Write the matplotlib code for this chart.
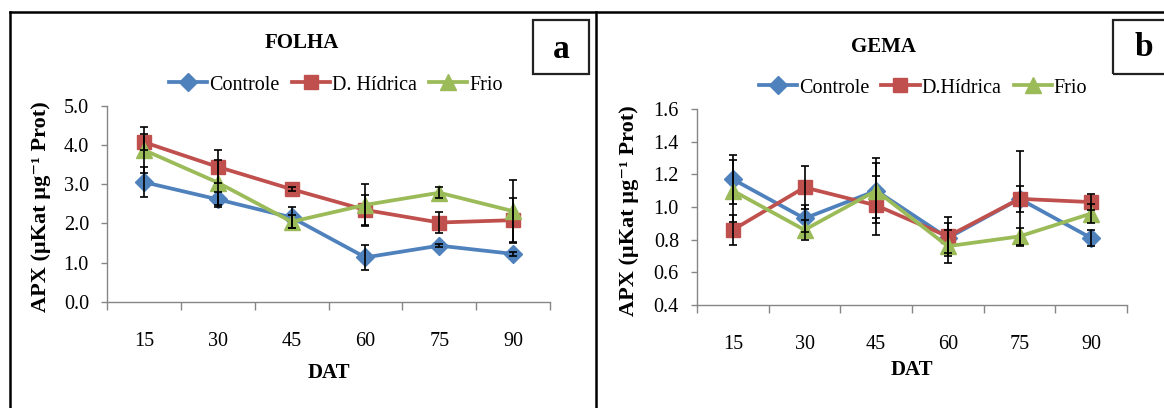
import matplotlib
matplotlib.use("Agg")
import matplotlib.pyplot as plt
from matplotlib.lines import Line2D
from matplotlib.patches import Rectangle
import numpy as np

plt.rcParams['font.family'] = ['Liberation Serif', 'DejaVu Serif']

categories = ["15", "30", "45", "60", "75", "90"]
series_names = ["Controle", "D. Hídrica", "Frio"]
series_names_b = ["Controle", "D.Hídrica", "Frio"]

folha_controle = [3.05, 2.61, 2.15, 1.13, 1.43, 1.22]
folha_controle_err = [0.38, 0.20, 0.27, 0.31, 0.04, 0.06]
folha_hidrica = [4.07, 3.44, 2.87, 2.34, 2.02, 2.08]
folha_hidrica_err = [0.20, 0.42, 0.05, 0.38, 0.28, 0.57]
folha_frio = [3.87, 3.04, 2.04, 2.47, 2.78, 2.31]
folha_frio_err = [0.58, 0.58, 0.17, 0.54, 0.14, 0.79]

gema_controle = [1.17, 0.93, 1.10, 0.81, 1.05, 0.81]
gema_controle_err = [0.15, 0.08, 0.20, 0.09, 0.08, 0.05]
gema_hidrica = [0.86, 1.12, 1.01, 0.82, 1.05, 1.03]
gema_hidrica_err = [0.09, 0.13, 0.18, 0.12, 0.29, 0.05]
gema_frio = [1.10, 0.86, 1.10, 0.76, 0.82, 0.96]
gema_frio_err = [0.19, 0.06, 0.17, 0.10, 0.05, 0.06]

colors = ["#4F81BD", "#C0504D", "#9BBB59"]
markers = ["D", "s", "^"]
msizes = [9.5, 10.5, 11]

W, H = 1164, 408
fig = plt.figure(figsize=(W / 100, H / 100), dpi=100)

def fx(x):
    return x / W

def fy(y):
    return 1 - y / H

def make_panel(rect, data, errs, ylim, yticks, names, title, title_pos, leg_pos,
               ylab_pos, dat_y, letter, box, letter_pos):
    ax = fig.add_axes(rect)
    x = np.arange(len(categories))
    handles = []
    for vals, err, c, m, ms, nm in zip(data, errs, colors, markers, msizes, names):
        h, = ax.plot(x, vals, color=c, lw=2.7, marker=m, ms=ms, mfc=c, mec=c,
                     label=nm, zorder=3, clip_on=False)
        ax.errorbar(x, vals, yerr=err, fmt='none', ecolor='black', elinewidth=1.2,
                    capsize=3.2, capthick=1.2, zorder=4, clip_on=False)
        handles.append(h)
    ax.set_xlim(-0.5, len(categories) - 0.5)
    ax.set_ylim(*ylim)
    ax.set_yticks(yticks)
    ax.set_yticklabels([f"{v:.1f}" for v in yticks])
    ax.set_xticks(np.arange(-0.5, len(categories), 1.0))
    ax.set_xticklabels([])
    ax.set_xticks(x, minor=True)
    ax.set_xticklabels(categories, minor=True)
    for s in ["top", "right"]:
        ax.spines[s].set_visible(False)
    for s in ["left", "bottom"]:
        ax.spines[s].set_color("#868686")
        ax.spines[s].set_linewidth(1.0)
    ax.tick_params(axis='x', which='major', length=5.5, color="#868686", width=1.0, direction='out')
    ax.tick_params(axis='x', which='minor', length=0, pad=21.5, labelsize=14.5)
    ax.tick_params(axis='y', which='major', length=4, color="#868686", width=1.0,
                   direction='out', pad=9, labelsize=14.5)
    ax.text(0.5, dat_y, "DAT", transform=ax.transAxes, ha='center', va='center',
            fontsize=15, fontweight='bold')
    fig.text(fx(title_pos[0]), fy(title_pos[1]), title, ha='center', va='center',
             fontsize=15, fontweight='bold')
    fig.text(fx(ylab_pos[0]), fy(ylab_pos[1]), "APX (µKat µg⁻¹ Prot)", rotation=90,
             ha='center', va='center', fontsize=16, fontweight='bold')
    ax.legend(handles=handles, loc='center', bbox_to_anchor=(fx(leg_pos[0]), fy(leg_pos[1])),
              bbox_transform=fig.transFigure, ncol=3, frameon=False, fontsize=14.5,
              handlelength=1.9, handletextpad=0.1, columnspacing=0.6, borderpad=0,
              borderaxespad=0)
    fig.patches.append(Rectangle((fx(box[0]), fy(box[3])), fx(box[2] - box[0]),
                                 (box[3] - box[1]) / H, transform=fig.transFigure,
                                 fill=False, edgecolor='#222222', lw=1.6, clip_on=False))
    fig.text(fx(letter_pos[0]), fy(letter_pos[1]), letter, ha='center', va='center',
             fontsize=24, fontweight='bold')
    return ax

# left panel
make_panel([fx(107), fy(301.7), fx(550 - 107), (301.7 - 105.7) / H],
           [folha_controle, folha_hidrica, folha_frio],
           [folha_controle_err, folha_hidrica_err, folha_frio_err],
           (0, 5), np.arange(0, 5.01, 1.0), series_names, "FOLHA", (302, 43),
           (336, 85), (41, 207), -0.365, "a", (533, 20, 589, 74), (561, 49))

# right panel
make_panel([fx(697), fy(305), fx(1127 - 697), (305 - 109) / H],
           [gema_controle, gema_hidrica, gema_frio],
           [gema_controle_err, gema_hidrica_err, gema_frio_err],
           (0.4, 1.6), np.arange(0.4, 1.61, 0.2), series_names_b, "GEMA", (883, 47),
           (923, 88), (629, 211), -0.333, "b", (1113, 20, 1180, 74), (1144, 47))

# outer frame lines
for (x0, y0, x1, y1) in [(9.5, 12, 1164, 12), (9.5, 12, 9.5, 408), (596, 12, 596, 408)]:
    fig.add_artist(Line2D([fx(x0), fx(x1)], [fy(y0), fy(y1)], transform=fig.transFigure,
                          color='black', lw=1.8, solid_capstyle='projecting'))

fig.savefig("out.png", dpi=100)
